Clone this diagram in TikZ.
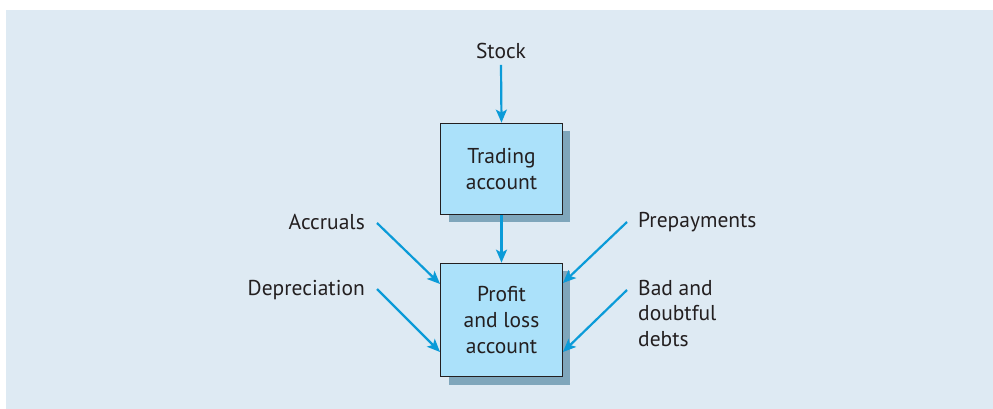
\documentclass[tikz,border=0pt]{standalone}
\usepackage{fontspec}
\setmainfont{PT Sans}
\usetikzlibrary{arrows.meta,shadows}
\definecolor{bgc}{HTML}{DEEAF3}
\definecolor{boxc}{HTML}{ABE1FA}
\definecolor{shc}{HTML}{7FA6BB}
\definecolor{arc}{HTML}{0B9BD8}
\definecolor{txc}{HTML}{231F20}
\begin{document}
\begin{tikzpicture}[x=1pt,y=-1pt,
  lbl/.style={text=txc,font=\fontsize{21.5}{25.5}\selectfont,inner sep=0pt,align=left},
  acct/.style={draw=txc,line width=1.3pt,fill=boxc,text=txc,font=\fontsize{21.5}{26}\selectfont,align=center,minimum width=121.6pt,inner sep=0pt,
    drop shadow={shadow xshift=8pt,shadow yshift=-8pt,fill=shc,opacity=1}},
  flow/.style={draw=arc,line width=2.2pt,-{Stealth[length=13pt,width=11pt,inset=3pt]}}]
\useasboundingbox (0,0) rectangle (993,409);
\fill[bgc] (6,10) rectangle (993,409);
\node[acct,minimum height=91pt] (tr) at (501.5,168.8) {Trading\\account};
\node[acct,minimum height=113.4pt] (pl) at (501.5,320) {Profit\\and loss\\account};
\node[lbl] (stock) at (501,51) {Stock};
\node[lbl,anchor=east] (acc) at (365,222) {Accruals};
\node[lbl,anchor=east] (dep) at (365,290) {Depreciation};
\node[lbl,anchor=west] (pre) at (638,222) {Prepayments};
\node[lbl,anchor=north west] (bad) at (638,280) {Bad and\\doubtful\\debts};
\draw[flow] ([yshift=-6pt]stock.south) -- (tr.north);
\draw[flow] (tr.south) -- (pl.north);
\draw[flow] ([shift={(12,1)}]acc.east) -- ([yshift=36]pl.west);
\draw[flow] ([shift={(12,-1)}]dep.east) -- ([yshift=-32]pl.west);
\draw[flow] ([shift={(-11,0)}]pre.west) -- ([yshift=37]pl.east);
\draw[flow] ([shift={(-11,10)}]bad.north west) -- ([yshift=-32]pl.east);
\end{tikzpicture}
\end{document}
